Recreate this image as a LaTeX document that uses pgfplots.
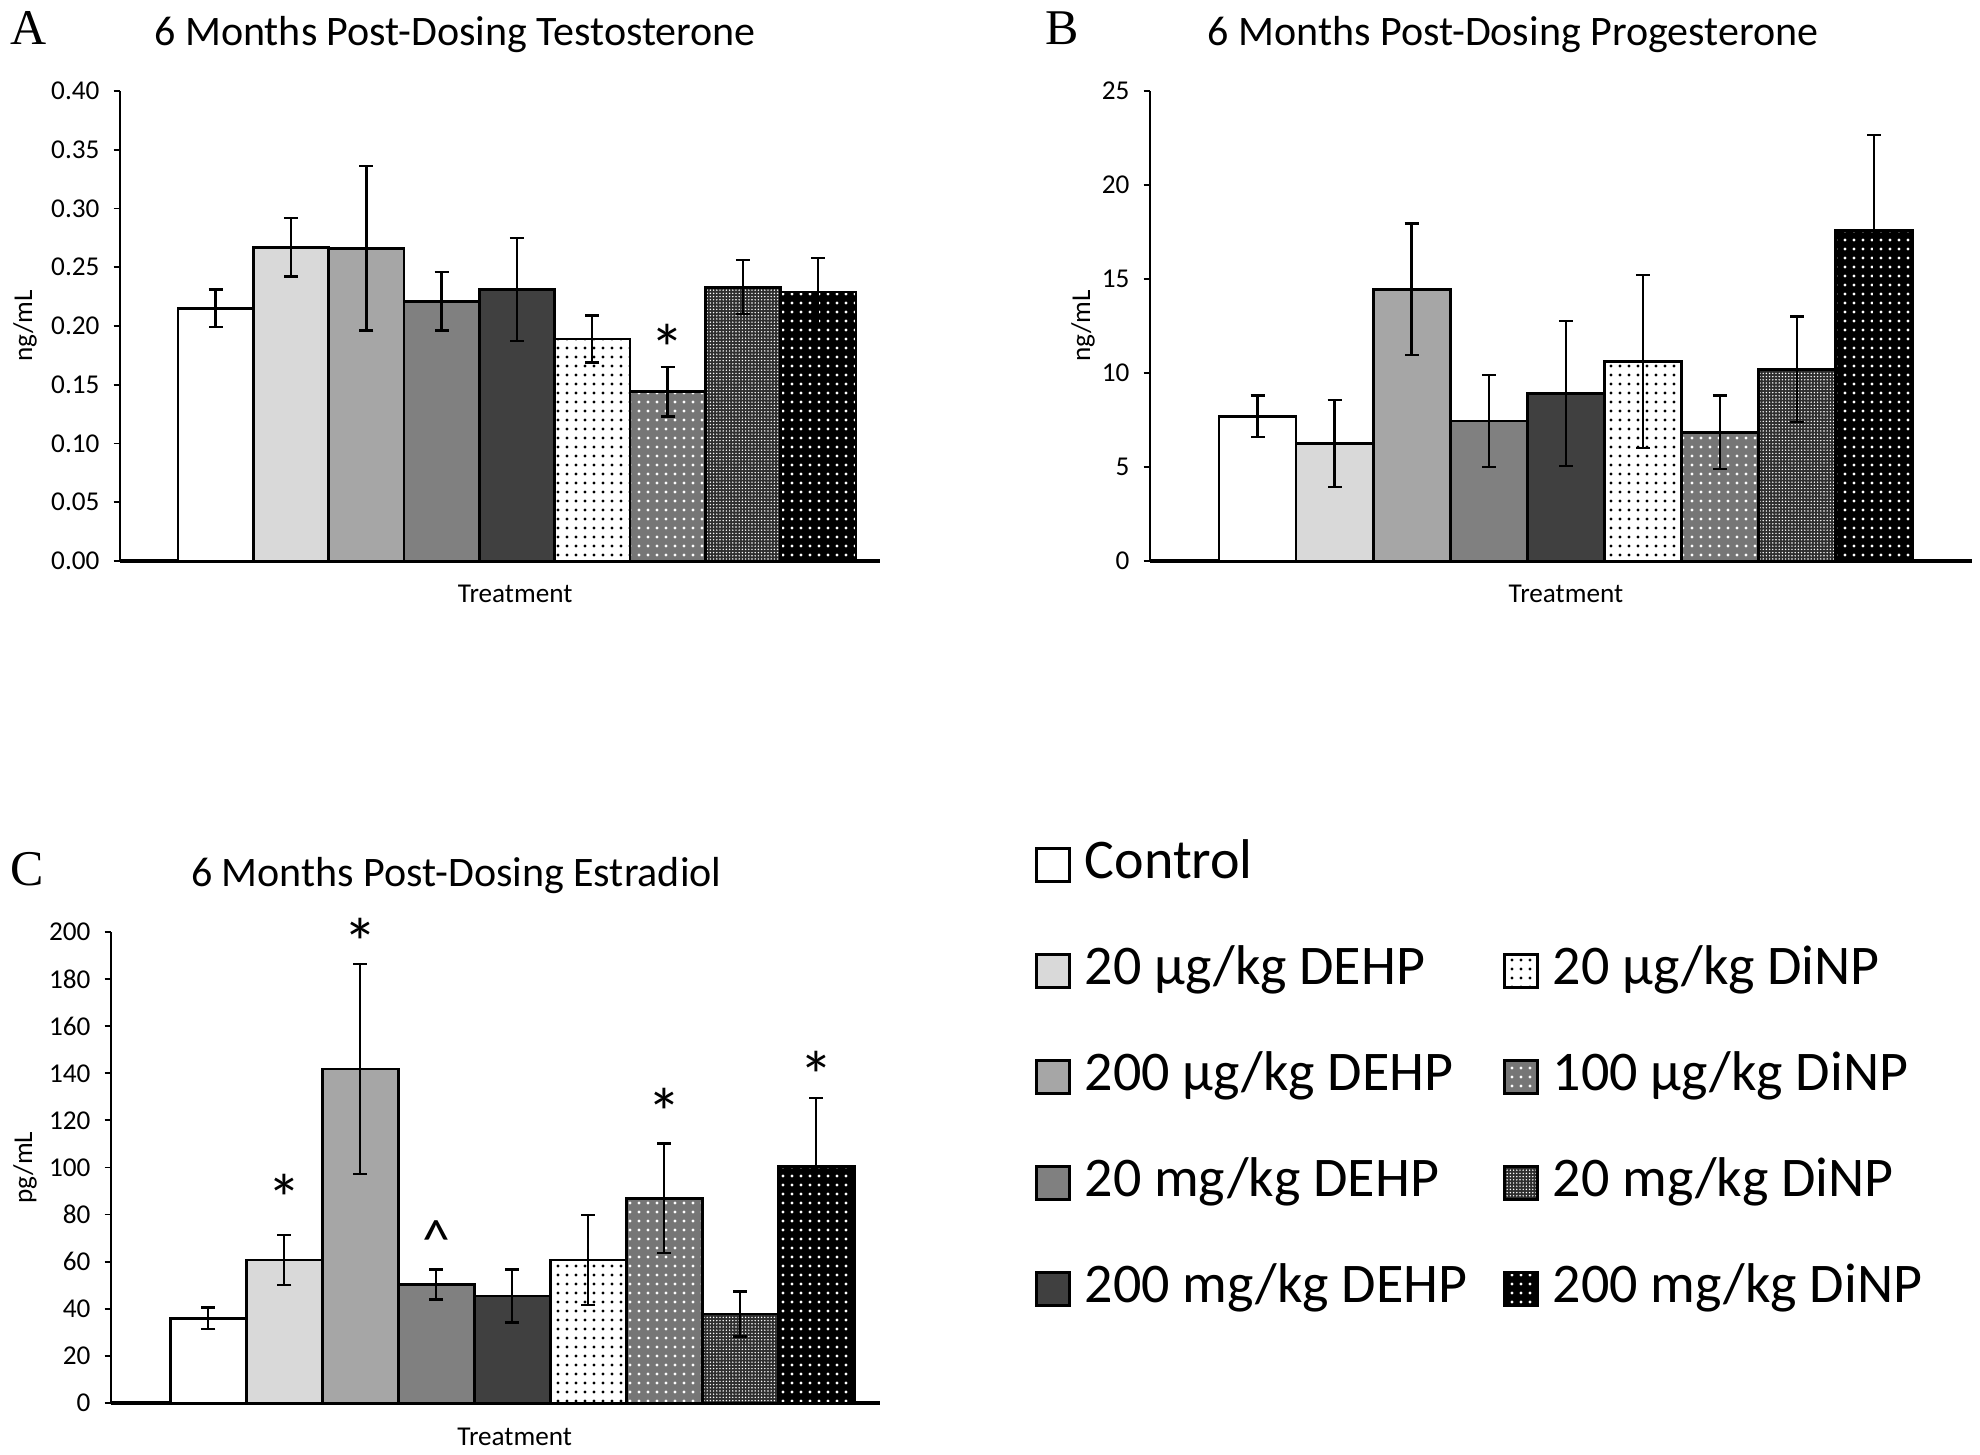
\documentclass[border=0pt]{standalone}
\usepackage{fontspec}
\setmainfont{Carlito}
\newfontfamily\letterfont{Liberation Serif}
\usepackage{pgfplots}
\pgfplotsset{compat=1.18}
\usetikzlibrary{patterns.meta}

\definecolor{g1}{HTML}{D9D9D9}
\definecolor{g2}{HTML}{A6A6A6}
\definecolor{g3}{HTML}{808080}
\definecolor{g4}{HTML}{404040}
\definecolor{g6}{HTML}{767676}
\definecolor{g7}{HTML}{2E2E2E}

\tikzset{
  s0/.style={fill=white},
  s1/.style={fill=g1},
  s2/.style={fill=g2},
  s3/.style={fill=g3},
  s4/.style={fill=g4},
  s5/.style={fill=white, postaction={pattern color=black, pattern={Dots[distance=2.25pt,radius=0.42pt]}}},
  s6/.style={fill=g6, postaction={pattern color=white, pattern={Dots[distance=2.25pt,radius=0.42pt]}}},
  s7/.style={fill=g7, postaction={pattern color=white, pattern={Dots[distance=0.8pt,radius=0.2pt]}}},
  s8/.style={fill=black, postaction={pattern color=white, pattern={Dots[distance=2.25pt,radius=0.42pt]}}},
  ast/.style={font=\fontsize{17}{17}\selectfont, anchor=center, yshift=-3.2pt},
}

\pgfplotsset{
  mybar/.style={ybar, bar width=1, bar shift=0pt, draw=black, line width=0.7pt,
     /pgfplots/error bars/y dir=both, /pgfplots/error bars/y explicit,
     /pgfplots/error bars/error bar style={line width=0.6pt, draw=black, solid},
     /pgfplots/error bars/error mark options={rotate=90, mark size=1.75pt, line width=0.6pt, black}},
  panel/.style={
     scale only axis, separate axis lines,
     axis x line*=bottom, axis y line*=left,
     x axis line style={line width=0.8pt, -},
     y axis line style={line width=0.45pt, -},
     xtick=\empty, ytick pos=left,
     tick align=outside, major tick length=1.6pt,
     ytick style={line width=0.45pt, black},
     /pgf/number format/assume math mode=true,
     scaled y ticks=false,
     tick label style={font=\fontsize{6.8}{8}\selectfont},
     label style={font=\fontsize{6.8}{8}\selectfont},
     title style={font=\fontsize{10.5}{12}\selectfont, anchor=center},
     clip=false, ymin=0,
  },
}

\begin{document}
\begin{tikzpicture}
\path[use as bounding box] (0,0) rectangle (495pt,363.75pt);

% Panel letters
\node[font=\letterfont\fontsize{12.5}{13}\selectfont] at (7.25pt,356.75pt) {A};
\node[font=\letterfont\fontsize{12.5}{13}\selectfont] at (265.5pt,356.75pt) {B};
\node[font=\letterfont\fontsize{12.5}{13}\selectfont] at (6.75pt,146.5pt) {C};

% ---------------- Panel A ----------------
\begin{axis}[panel, at={(30pt,223.5pt)}, anchor=south west,
  width=190pt, height=117.5pt, xmin=-1.27, xmax=8.82, ymax=0.40,
  ytick={0,0.05,0.10,0.15,0.20,0.25,0.30,0.35,0.40},
  yticklabel style={/pgf/number format/.cd, fixed, fixed zerofill, precision=2},
  title={6 Months Post-Dosing Testosterone},
  title style={at={(axis description cs:0.441,1)}, yshift=8.2pt},
  xlabel={Treatment},
  xlabel style={at={(axis description cs:0.52,0)}, anchor=center, yshift=-8.1pt},
  ylabel={ng/mL},
  ylabel style={at={(axis description cs:-0.125,0.5)}, anchor=center},
]
\addplot[s0, mybar] coordinates {(0,0.215) +- (0,0.016)};
\addplot[s1, mybar] coordinates {(1,0.267) +- (0,0.025)};
\addplot[s2, mybar] coordinates {(2,0.266) +- (0,0.070)};
\addplot[s3, mybar] coordinates {(3,0.221) +- (0,0.025)};
\addplot[s4, mybar] coordinates {(4,0.231) +- (0,0.044)};
\addplot[s5, mybar] coordinates {(5,0.189) +- (0,0.020)};
\addplot[s6, mybar] coordinates {(6,0.144) +- (0,0.021)};
\addplot[s7, mybar] coordinates {(7,0.233) +- (0,0.023)};
\addplot[s8, mybar] coordinates {(8,0.229) +- (0,0.029)};
\node[ast] at (axis cs:6,0.1916) {*};
\end{axis}

% ---------------- Panel B ----------------
\begin{axis}[panel, at={(287.5pt,223.5pt)}, anchor=south west,
  width=205.5pt, height=117.5pt, xmin=-1.395, xmax=9.27, ymax=25,
  ytick={0,5,10,15,20,25},
  title={6 Months Post-Dosing Progesterone},
  title style={at={(axis description cs:0.4416,1)}, yshift=8.2pt},
  xlabel={Treatment},
  xlabel style={at={(axis description cs:0.506,0)}, anchor=center, yshift=-8.1pt},
  ylabel={ng/mL},
  ylabel style={at={(axis description cs:-0.0815,0.5)}, anchor=center},
]
\addplot[s0, mybar] coordinates {(0,7.70) +- (0,1.10)};
\addplot[s1, mybar] coordinates {(1,6.25) +- (0,2.30)};
\addplot[s2, mybar] coordinates {(2,14.45) +- (0,3.50)};
\addplot[s3, mybar] coordinates {(3,7.45) +- (0,2.45)};
\addplot[s4, mybar] coordinates {(4,8.90) +- (0,3.85)};
\addplot[s5, mybar] coordinates {(5,10.60) +- (0,4.60)};
\addplot[s6, mybar] coordinates {(6,6.85) +- (0,1.95)};
\addplot[s7, mybar] coordinates {(7,10.20) +- (0,2.80)};
\addplot[s8, mybar] coordinates {(8,17.60) +- (0,5.05)};
\end{axis}

% ---------------- Panel C ----------------
\begin{axis}[panel, at={(27.75pt,13pt)}, anchor=south west,
  width=192.25pt, height=117.75pt, xmin=-1.28, xmax=8.84, ymax=200,
  ytick={0,20,40,60,80,100,120,140,160,180,200},
  title={6 Months Post-Dosing Estradiol},
  title style={at={(axis description cs:0.449,1)}, yshift=8.2pt},
  xlabel={Treatment},
  xlabel style={at={(axis description cs:0.525,0)}, anchor=center, yshift=-8.5pt},
  ylabel={pg/mL},
  ylabel style={at={(axis description cs:-0.1118,0.5)}, anchor=center},
]
\addplot[s0, mybar] coordinates {(0,36.0) +- (0,4.5)};
\addplot[s1, mybar] coordinates {(1,60.7) +- (0,10.6)};
\addplot[s2, mybar] coordinates {(2,141.8) +- (0,44.5)};
\addplot[s3, mybar] coordinates {(3,50.3) +- (0,6.4)};
\addplot[s4, mybar] coordinates {(4,45.4) +- (0,11.3)};
\addplot[s5, mybar] coordinates {(5,60.7) +- (0,19.2)};
\addplot[s6, mybar] coordinates {(6,87.0) +- (0,23.2)};
\addplot[s7, mybar] coordinates {(7,37.8) +- (0,9.5)};
\addplot[s8, mybar] coordinates {(8,100.5) +- (0,29.0)};
\node[ast] at (axis cs:1,92.4) {*};
\node[ast] at (axis cs:2,201) {*};
\node[ast] at (axis cs:6,129) {*};
\node[ast] at (axis cs:8,144.5) {*};
\node[font=\fontsize{14}{14}\selectfont, anchor=center, yshift=-2.9pt] at (axis cs:3,74.4) {\^{}};
\end{axis}

% ---------------- Legend ----------------
\begin{axis}[hide axis, scale only axis, width=1pt, height=1pt,
  xmin=0, xmax=1, ymin=0, ymax=1,
  at={(258.75pt,154pt)}, anchor=north west,
  legend columns=2, legend cell align=left,
  legend style={at={(0,1)}, anchor=north west, draw=none, fill=none,
    inner sep=0pt, outer sep=0pt,
    font=\fontsize{14}{16}\selectfont, row sep=13.5pt,
    nodes={inner sep=0pt, text height=10pt, text depth=3pt},
    /tikz/every odd column/.append style={column sep=3.5pt},
    /tikz/every even column/.append style={column sep=8.9pt}},
  legend image code/.code={\draw[#1, line width=0.65pt] (0pt,-4.15pt) rectangle (8.3pt,4.15pt);},
]
\addlegendimage{s0}\addlegendentry{Control}
\addlegendimage{empty legend}\addlegendentry{}
\addlegendimage{s1}\addlegendentry{20 µg/kg DEHP}
\addlegendimage{s5}\addlegendentry{20 µg/kg DiNP}
\addlegendimage{s2}\addlegendentry{200 µg/kg DEHP}
\addlegendimage{s6}\addlegendentry{100 µg/kg DiNP}
\addlegendimage{s3}\addlegendentry{20 mg/kg DEHP}
\addlegendimage{s7}\addlegendentry{20 mg/kg DiNP}
\addlegendimage{s4}\addlegendentry{200 mg/kg DEHP}
\addlegendimage{s8}\addlegendentry{200 mg/kg DiNP}
\end{axis}
\end{tikzpicture}
\end{document}
